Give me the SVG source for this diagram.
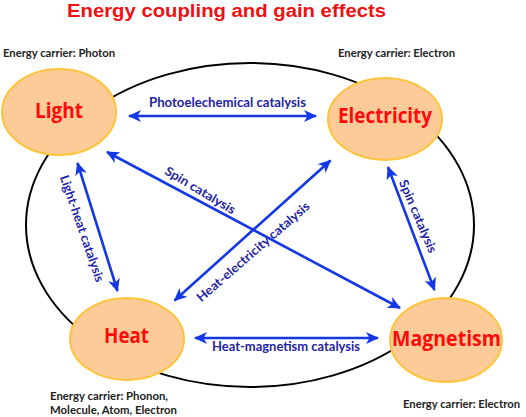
<svg xmlns="http://www.w3.org/2000/svg" width="526" height="417" viewBox="0 0 526 417">
<style>
.title{font-family:"Liberation Sans",Arial,sans-serif;font-weight:bold;font-size:18px;fill:#f01010}
.node ellipse{fill:#fccb97;stroke:#fec43a;stroke-width:2}
.ntext{font-family:"Open Sans",Lato,"Liberation Sans",sans-serif;font-weight:bold;font-size:21px;fill:#ff0a0a;text-anchor:middle}
.carrier{font-family:Lato,"Open Sans","Liberation Sans",sans-serif;font-weight:bold;font-size:11px;fill:#222}
.arr{stroke:#1438e6;stroke-width:2.6;fill:none;marker-start:url(#ah);marker-end:url(#ah)}
.lbl{font-family:Lato,"Open Sans","Liberation Sans",sans-serif;font-weight:bold;font-size:12.5px;fill:#1e24a6;text-anchor:middle}
</style>
<defs>
<marker id="ah" markerUnits="userSpaceOnUse" markerWidth="14" markerHeight="12" viewBox="0 0 14 12" refX="12" refY="6" orient="auto-start-reverse">
<path d="M0,0 L13,6 L0,12 L3.5,6 Z" fill="#1438e6"/>
</marker>
</defs>
<rect width="526" height="417" fill="#fff"/>
<text class="title" x="67" y="17" textLength="319" lengthAdjust="spacingAndGlyphs">Energy coupling and gain effects</text>
<ellipse id="ring" cx="250" cy="225" rx="224" ry="162" fill="none" stroke="#000" stroke-width="2"/>
<g id="connectors">
<line class="arr" x1="129" y1="116" x2="316" y2="116"/>
<line class="arr" x1="195" y1="338" x2="378" y2="338"/>
<line class="arr" x1="77.5" y1="163" x2="117.5" y2="291"/>
<line class="arr" x1="388" y1="167" x2="434.5" y2="290"/>
<line class="arr" x1="107" y1="152" x2="400" y2="308"/>
<line class="arr" x1="174.5" y1="300.5" x2="330.5" y2="160.5"/>
<text class="lbl" x="227.5" y="107" textLength="157" lengthAdjust="spacingAndGlyphs">Photoelechemical catalysis</text>
<text class="lbl" x="286" y="351" textLength="148" lengthAdjust="spacingAndGlyphs">Heat-magnetism catalysis</text>
<text class="lbl" transform="translate(78,230) rotate(71)" textLength="112" lengthAdjust="spacingAndGlyphs">Light-heat catalysis</text>
<text class="lbl" transform="translate(414,218) rotate(67)" textLength="78" lengthAdjust="spacingAndGlyphs">Spin catalysis</text>
<text class="lbl" transform="translate(198,194) rotate(31)" textLength="80" lengthAdjust="spacingAndGlyphs">Spin catalysis</text>
<text class="lbl" transform="translate(256,255) rotate(-41)" textLength="145" lengthAdjust="spacingAndGlyphs">Heat-electricity catalysis</text>
</g>
<g id="light" class="node">
<ellipse cx="59" cy="112" rx="57" ry="43"/>
<text class="ntext" x="59" y="118" textLength="48" lengthAdjust="spacingAndGlyphs">Light</text>
</g>
<g id="electricity" class="node">
<ellipse cx="385" cy="119" rx="57" ry="41"/>
<text class="ntext" x="385" y="123" textLength="94" lengthAdjust="spacingAndGlyphs">Electricity</text>
</g>
<g id="heat" class="node">
<ellipse cx="127" cy="339" rx="57" ry="41"/>
<text class="ntext" x="126.5" y="343" textLength="45" lengthAdjust="spacingAndGlyphs">Heat</text>
</g>
<g id="magnetism" class="node">
<ellipse cx="446" cy="340" rx="56" ry="42"/>
<text class="ntext" x="446.5" y="346" textLength="109" lengthAdjust="spacingAndGlyphs">Magnetism</text>
</g>
<g id="carriers">
<text class="carrier" x="3" y="57" textLength="112" lengthAdjust="spacingAndGlyphs">Energy carrier: Photon</text>
<text class="carrier" x="338" y="57" textLength="117" lengthAdjust="spacingAndGlyphs">Energy carrier: Electron</text>
<text class="carrier" x="50" y="400" textLength="118" lengthAdjust="spacingAndGlyphs">Energy carrier: Phonon,</text>
<text class="carrier" x="50" y="414" textLength="127" lengthAdjust="spacingAndGlyphs">Molecule, Atom, Electron</text>
<text class="carrier" x="403" y="408" textLength="117" lengthAdjust="spacingAndGlyphs">Energy carrier: Electron</text>
</g>
</svg>
